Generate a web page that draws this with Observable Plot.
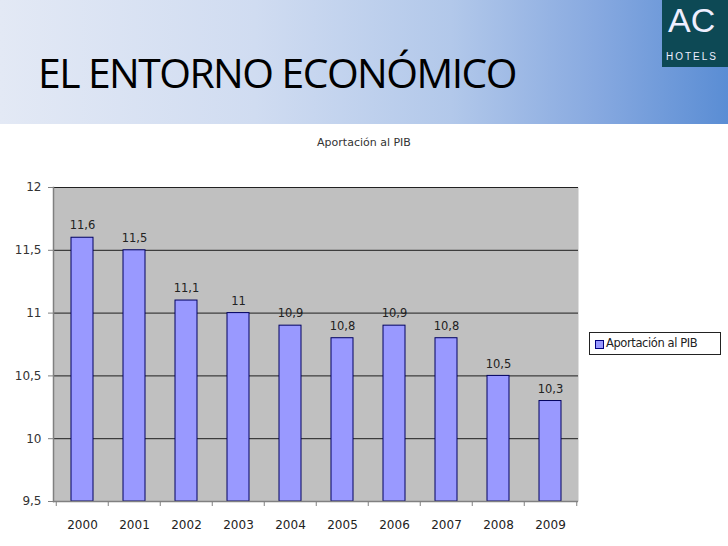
<!DOCTYPE html>
<html><head><meta charset="utf-8">
<script src="https://cdn.jsdelivr.net/npm/d3@7"></script>
<script src="https://cdn.jsdelivr.net/npm/@observablehq/plot@0.6"></script>
<style>
body{margin:0;background:#fff;}
#page{position:relative;width:728px;height:546px;overflow:hidden;background:#fff;font-family:"DejaVu Sans",Verdana,sans-serif;}
#hdr{position:absolute;left:0;top:0;width:728px;height:124px;background:linear-gradient(to right,#e3e9f5 0%,#d0dcf1 35%,#b2c8ea 62%,#87a9e0 82%,#5a8dd4 100%);}
#title{position:absolute;left:38px;top:45px;font-family:"Open Sans",sans-serif;font-size:40px;color:#000;letter-spacing:-1.5px;white-space:nowrap;transform-origin:left top;transform:scaleX(1.02);}
#logo{position:absolute;left:662px;top:0;width:66px;height:67px;background:#0d4955;color:#eef;font-family:"Liberation Sans",sans-serif;}
#logo .ac{position:absolute;left:6px;top:0px;font-size:34px;line-height:40px;}
#logo .h{position:absolute;left:4px;top:51px;font-size:10px;letter-spacing:2px;}
#ctitle{position:absolute;left:0;width:728px;top:136px;text-align:center;font-size:11px;color:#333;}
#legend{position:absolute;left:589px;top:332px;width:132px;height:23px;border:1px solid #222;background:#fff;font-size:11.5px;color:#222;box-sizing:border-box;}
#legend .sw{position:absolute;left:5px;top:7px;width:7px;height:7px;background:#9999ff;border:1px solid #000080;}
#legend .lt{position:absolute;left:16px;top:3px;letter-spacing:-0.4px;}
#chart{position:absolute;left:0;top:130px;}
</style></head>
<body><div id="page">
<div id="hdr"></div>
<div id="title">EL ENTORNO ECONÓMICO</div>
<div id="logo"><div class="ac">AC</div><div class="h">HOTELS</div></div>
<div id="ctitle">Aportación al PIB</div>
<div id="chart"></div>
<div id="legend"><div class="sw"></div><div class="lt">Aportación al PIB</div></div>
</div>
<script>
const years = ["2000","2001","2002","2003","2004","2005","2006","2007","2008","2009"];
const values = [11.6, 11.5, 11.1, 11.0, 10.9, 10.8, 10.9, 10.8, 10.5, 10.3];
const yTicks = [9.5, 10, 10.5, 11, 11.5, 12];
const seriesName = "Aportación al PIB";

const data = years.map((y, i) => ({year: y, value: values[i]}));
const fmt = v => String(v).replace(".", ",");
const W = 728, H = 416, mL = 53, mR = 150;
const step = (W - mL - mR) / years.length;

const chart = Plot.plot({
  width: W, height: H,
  marginLeft: mL, marginRight: mR, marginTop: 57, marginBottom: 45,
  style: {fontFamily: "DejaVu Sans, Verdana, sans-serif", fontSize: "12px", color: "#333", background: "transparent"},
  x: {domain: years, paddingInner: 0.58, paddingOuter: 0.29, label: null},
  y: {domain: [9.5, 12], ticks: yTicks, label: null},
  marks: [
    Plot.frame({fill: "#c0c0c0"}),
    Plot.gridY(yTicks, {stroke: "#000", strokeOpacity: 0.85}),
    Plot.barY(data, {x: "year", y1: 9.5, y2: "value", fill: "#9999ff", stroke: "#000060", strokeWidth: 1}),
    Plot.text(data, {x: "year", y: "value", text: d => fmt(d.value), dy: -12, fill: "#222", fontSize: 11.5, letterSpacing: 0.5}),
    Plot.ruleY([9.5], {stroke: "#808080", strokeWidth: 1.5}),
    Plot.frame({anchor: "left", stroke: "#808080", strokeWidth: 1.5}),
    Plot.axisY(yTicks, {tickSize: 5, tickPadding: 7, tickFormat: fmt, fill: "#333", stroke: "#808080", fontSize: 12}),
    Plot.ruleX(years, {x: d => d, dx: -step / 2, y1: 9.5, y2: 9.5, insetBottom: -5, stroke: "#808080"}),
    Plot.ruleX(years.slice(-1), {x: d => d, dx: step / 2, y1: 9.5, y2: 9.5, insetBottom: -5, stroke: "#808080"}),
    Plot.axisX({tickSize: 0, tickPadding: 19, fill: "#222", fontSize: 12})
  ]
});
document.getElementById("chart").appendChild(chart);
</script>
</body></html>
